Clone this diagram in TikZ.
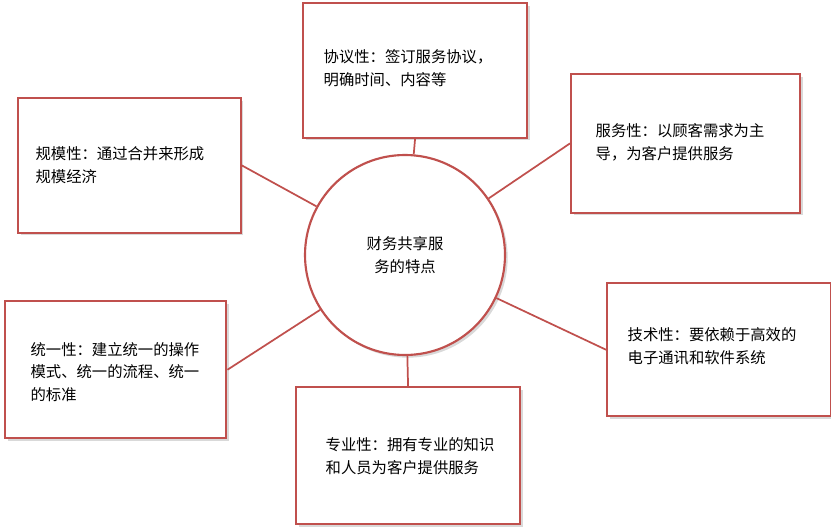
\documentclass[tikz,border=0pt]{standalone}
\usepackage{fontspec}
\setmainfont{Noto Sans CJK SC}
\usetikzlibrary{shadows}
\definecolor{rd}{RGB}{192,80,77}
\begin{document}
\begin{tikzpicture}[x=0.75pt,y=-0.75pt,
  box/.style={draw=rd,line width=1.6pt,fill=white,drop shadow={opacity=0.3,shadow xshift=2pt,shadow yshift=-2pt}},
  lbl/.style={font=\fontsize{11.5pt}{17pt}\selectfont,align=left},
  conn/.style={draw=rd,line width=1.3pt}]
\useasboundingbox (0,0) rectangle (831,527);
\node[box,circle,minimum size=150pt] (c) at (405,255) {};
\node[lbl,align=center] at (c) {财务共享服\\务的特点};
\node[box,minimum width=168pt,minimum height=101pt,anchor=north west] (t) at (302,2) {};
\node[lbl] at (408,68) {协议性：签订服务协议，\\明确时间、内容等};
\node[box,minimum width=167pt,minimum height=101pt,anchor=north west] (tl) at (17,97) {};
\node[lbl] at (120,165) {规模性：通过合并来形成\\规模经济};
\node[box,minimum width=172pt,minimum height=104pt,anchor=north west] (tr) at (570,73) {};
\node[lbl] at (680,142) {服务性：以顾客需求为主\\导，为客户提供服务};
\node[box,minimum width=166pt,minimum height=103pt,anchor=north west] (bl) at (4,300) {};
\node[lbl] at (115,372) {统一性：建立统一的操作\\模式、统一的流程、统一\\的标准};
\node[box,minimum width=168pt,minimum height=103pt,anchor=north west] (b) at (295,386) {};
\node[lbl] at (410,456) {专业性：拥有专业的知识\\和人员为客户提供服务};
\node[box,minimum width=168pt,minimum height=100pt,anchor=north west] (br) at (606,282) {};
\node[lbl] at (712,346) {技术性：要依赖于高效的\\电子通讯和软件系统};
\draw[conn] (t.south) -- (c);
\draw[conn] (tl.east) -- (c);
\draw[conn] (tr.west) -- (c);
\draw[conn] (bl.east) -- (c);
\draw[conn] (b.north) -- (c);
\draw[conn] (br.west) -- (c);
\end{tikzpicture}
\end{document}
